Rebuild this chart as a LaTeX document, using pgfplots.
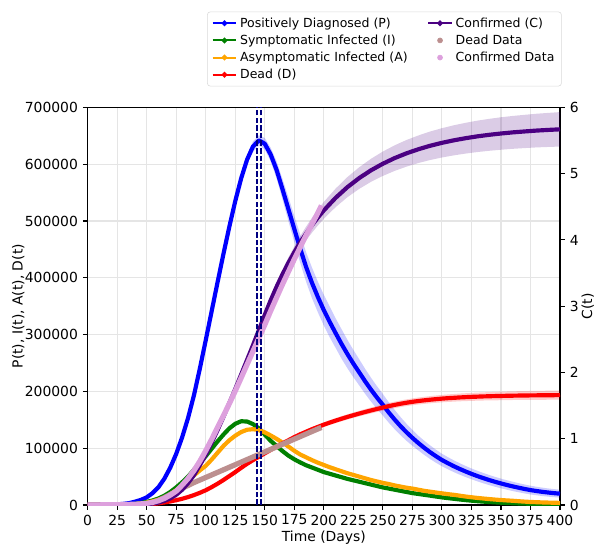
\documentclass[border=0pt]{standalone}
\usepackage{fontspec}
\setmainfont{DejaVu Sans}
\usepackage{pgfplots}
\pgfplotsset{compat=1.18}
\usepackage{pgfplotstable}
\usepgfplotslibrary{fillbetween}
\definecolor{mplblue}{HTML}{0000FF}
\definecolor{mplgreen}{HTML}{008000}
\definecolor{mplorange}{HTML}{FFA500}
\definecolor{mplred}{HTML}{FF0000}
\definecolor{indigo}{HTML}{4B0082}
\definecolor{plum}{HTML}{DDA0DD}
\definecolor{rosybrown}{HTML}{BC8F8F}
\definecolor{navy}{HTML}{000080}

% model curves: P, I, A, D (left axis) with band half-widths eP, eD
\pgfplotstableread{
t P eP I A D eD
0 200 50 100 50 0 0
5 250 50 110 60 0 0
10 350 50 150 100 0 0
15 500 50 200 150 0 0
20 750 50 300 250 50 10
25 1200 100 450 400 100 10
30 2000 100 700 600 150 10
35 3300 100 1200 1000 200 20
40 5800 200 2000 1500 300 20
45 9000 300 3500 2600 600 30
50 13500 400 5500 4200 1000 50
55 21000 500 8000 6500 1800 80
60 31500 700 11500 9500 3000 100
65 46500 1000 16500 13500 4500 150
70 66000 1500 23000 19000 6300 200
75 90000 2000 31000 26000 8500 250
80 119000 2500 40000 34000 11000 300
85 153000 3000 50000 43000 14000 350
90 193000 4000 62000 52000 17500 400
95 240000 5000 74000 61000 21500 450
100 290000 6000 86000 69000 26000 500
105 341000 6500 99000 80000 31500 700
110 392000 7000 112000 92000 37500 900
115 442000 7500 124000 104000 44000 1100
120 490000 8000 135000 114000 51000 1300
125 535000 8500 143000 122000 58000 1500
130 575000 9000 147500 128500 65500 1700
135 608000 9000 147000 132500 72500 1900
140 631000 9000 142500 133500 79000 2100
145 642000 9000 135000 132000 85000 2300
150 636000 10000 124000 128000 91000 2500
155 617000 12000 113000 122500 97000 2700
160 590000 15000 104000 116500 103000 2800
165 556000 18000 95000 110000 108500 3000
170 521000 21000 87000 103000 114000 3100
175 486000 23000 80500 95500 119500 3300
180 451500 25000 75000 89000 124500 3400
185 419000 26000 70000 84000 129000 3600
190 391000 27000 66000 79000 133500 3700
195 366000 27000 62000 74500 137500 3900
200 343000 27000 58000 70500 141500 4000
205 322300 27000 55000 66500 145100 4200
210 302600 26000 52000 63000 148600 4300
215 283600 26000 49000 59500 151900 4500
220 265700 25000 46000 56000 155100 4600
225 249100 24000 43500 53000 158100 4800
230 233500 23000 41000 50000 161000 4900
235 217700 22000 38500 47000 163800 5100
240 203000 21000 36000 44000 166500 5200
245 189200 20000 33500 41500 169100 5400
250 176400 19000 31000 39000 171600 5500
255 162900 18000 29000 37000 174100 5600
260 150400 17000 27000 34500 176300 5700
265 138800 16000 25000 32500 178300 5800
270 128100 15000 23000 30500 180100 5900
275 118300 14000 21000 29000 181700 6000
280 109200 13000 19500 27000 183100 6100
285 100800 12500 18000 25000 184300 6200
290 93000 12000 16500 23500 185400 6300
295 85900 11500 15000 22000 186400 6400
300 79300 11000 13500 20600 187300 6500
305 73700 10700 12200 19200 188100 6600
310 68400 10400 11000 18000 188700 6700
315 63600 10100 9800 16500 189400 6800
320 59100 9800 8700 15000 189900 6900
325 54900 9500 7700 13700 190400 7000
330 51000 9300 6800 12500 190800 7100
335 47400 9100 6000 11500 191200 7200
340 44000 8900 5300 10500 191500 7300
345 40900 8700 4700 9600 191800 7400
350 38000 8500 4100 8800 192000 7500
355 35300 8300 3600 8100 192300 7550
360 32800 8200 3200 7500 192500 7600
365 30500 8000 2800 6700 192700 7700
370 28300 7900 2500 6000 192800 7750
375 26300 7700 2200 5400 193000 7800
380 24700 7500 2000 5000 193100 7850
385 23200 7400 1800 4600 193200 7900
390 22000 7200 1700 4300 193300 7950
395 20900 7100 1550 4000 193400 8000
400 20000 7000 1400 3800 193500 8000
}\model

% confirmed model C (right axis, in millions) with band half-width eC
\pgfplotstableread{
t C eC
0 0 0
10 0.001 0
20 0.002 0
30 0.003 0
40 0.005 0
45 0.008 0.001
50 0.013 0.002
55 0.022 0.003
60 0.038 0.004
65 0.063 0.005
70 0.1 0.006
75 0.155 0.008
80 0.23 0.01
85 0.33 0.012
90 0.45 0.014
95 0.6 0.016
100 0.76 0.018
105 0.94 0.02
110 1.13 0.023
115 1.33 0.026
120 1.54 0.03
125 1.75 0.034
130 1.97 0.038
135 2.19 0.042
140 2.41 0.046
145 2.64 0.05
150 2.87 0.055
155 3.09 0.06
160 3.293 0.065
165 3.481 0.072
170 3.654 0.08
175 3.814 0.088
180 3.962 0.096
185 4.097 0.104
190 4.223 0.112
195 4.339 0.12
200 4.446 0.128
210 4.635 0.14
220 4.797 0.152
230 4.934 0.163
240 5.051 0.174
250 5.15 0.184
260 5.235 0.193
270 5.307 0.201
280 5.368 0.208
290 5.421 0.215
300 5.465 0.221
310 5.503 0.227
320 5.535 0.232
330 5.563 0.237
340 5.586 0.241
350 5.606 0.245
360 5.623 0.248
370 5.637 0.251
380 5.65 0.254
390 5.66 0.257
400 5.669 0.26
}\cmodel

% observed data: dead (left axis) and confirmed (right axis, millions)
\pgfplotstableread{
t dead conf
0 0 0
5 0 0.001
10 0 0.002
15 0 0.003
20 0 0.004
25 100 0.005
30 200 0.007
35 300 0.009
40 500 0.012
45 800 0.017
50 1500 0.025
55 4000 0.04
60 8000 0.065
65 13000 0.1
70 18500 0.15
75 24000 0.21
80 29500 0.3
85 34500 0.4
90 39500 0.52
95 44000 0.66
100 48500 0.82
105 53000 0.99
110 57500 1.17
115 62000 1.35
120 66500 1.53
125 71000 1.72
130 75500 1.92
135 80000 2.12
140 84500 2.32
145 89000 2.52
150 93500 2.72
155 98000 2.93
160 102500 3.13
165 107000 3.33
170 111500 3.52
175 116000 3.71
180 120500 3.89
185 125000 4.07
190 129500 4.24
195 134000 4.41
198 136500 4.52
}\obs

\begin{document}
\begin{tikzpicture}
\pgfplotsset{
  every axis/.append style={
    scale only axis, width=340.1pt, height=286.3pt,
    xmin=0, xmax=400,
    tick align=outside, major tick length=3.5pt,
    every tick/.style={black, line width=0.8pt},
    axis line style={line width=0.8pt},
    tick label style={font=\fontsize{10}{12}\selectfont},
    label style={font=\fontsize{10}{12}\selectfont},
    /pgf/number format/assume math mode=true,
  }
}
\begin{axis}[
  name=ax1,
  ymin=0, ymax=700000,
  xtick={0,25,...,400},
  ytick={0,100000,200000,300000,400000,500000,600000,700000},
  scaled y ticks=false,
  yticklabel style={/pgf/number format/fixed, /pgf/number format/1000 sep={}},
  xtick pos=bottom, ytick pos=left,
  grid=major, grid style={black!10, line width=0.8pt},
  xlabel={Time (Days)},
  ylabel={P(t), I(t), A(t), D(t)},
  every axis x label/.style={at={(axis description cs:0.5,0)}, anchor=north, yshift=-15pt},
  every axis y label/.style={at={(axis description cs:0,0.5)}, xshift=-50pt, rotate=90, anchor=center},
]
% bands
\addplot[name path=Pu, draw=none, forget plot] table[x=t, y expr=\thisrow{P}+\thisrow{eP}]{\model};
\addplot[name path=Pl, draw=none, forget plot] table[x=t, y expr=\thisrow{P}-\thisrow{eP}]{\model};
\addplot[fill=mplblue, fill opacity=0.2, draw=none, forget plot] fill between[of=Pu and Pl];
\addplot[name path=Du, draw=none, forget plot] table[x=t, y expr=\thisrow{D}+\thisrow{eD}]{\model};
\addplot[name path=Dl, draw=none, forget plot] table[x=t, y expr=\thisrow{D}-\thisrow{eD}]{\model};
\addplot[fill=mplred, fill opacity=0.2, draw=none, forget plot] fill between[of=Du and Dl];
% curves
\addplot[mplblue, line width=3pt, line join=round, forget plot] table[x=t, y=P]{\model};
\addplot[mplgreen, line width=3pt, line join=round, forget plot] table[x=t, y=I]{\model};
\addplot[mplorange, line width=3pt, line join=round, forget plot] table[x=t, y=A]{\model};
\addplot[mplred, line width=3pt, line join=round, forget plot] table[x=t, y=D]{\model};
\addplot[rosybrown, line width=3.8pt, line join=round, forget plot] table[x=t, y=dead]{\obs};
\end{axis}

\begin{axis}[
  at={(ax1.south west)}, anchor=south west,
  ymin=0, ymax=6,
  hide x axis,
  axis y line*=right,
  ytick={0,1,2,3,4,5,6},
  ylabel={C(t)},
  every axis y label/.style={at={(axis description cs:1,0.5)}, xshift=20pt, rotate=90, anchor=center},
  legend columns=2,
  legend cell align=left,
  legend style={at={(1.0035,1.2407)}, anchor=north east,
    draw=black!15, rounded corners=2pt, fill=white,
    font=\fontsize{9}{11}\selectfont,
    /tikz/every even column/.append style={column sep=12pt}},
]
\addplot[name path=Cu, draw=none, forget plot] table[x=t, y expr=\thisrow{C}+\thisrow{eC}]{\cmodel};
\addplot[name path=Cl, draw=none, forget plot] table[x=t, y expr=\thisrow{C}-\thisrow{eC}]{\cmodel};
\addplot[fill=indigo, fill opacity=0.2, draw=none, forget plot] fill between[of=Cu and Cl];
\addplot[indigo, line width=3pt, line join=round, forget plot] table[x=t, y=C]{\cmodel};
\addplot[plum, line width=3.8pt, line join=round, forget plot] table[x=t, y=conf]{\obs};
\addplot[navy, dash pattern=on 4pt off 1.5pt, line width=1.4pt, forget plot] coordinates {(143.6,0) (143.6,6)};
\addplot[navy, dash pattern=on 4pt off 1.5pt, line width=1.4pt, forget plot] coordinates {(146.5,0) (146.5,6)};
\node[anchor=south east, font=\fontsize{10}{12}\selectfont, inner sep=1pt] at (rel axis cs:1,1) {1e6};
% legend (row-wise order reproduces matplotlib's column-wise layout)
\addlegendimage{mplblue, line width=1.5pt, mark=*, mark size=1.2pt}
\addlegendentry{Positively Diagnosed (P)}
\addlegendimage{indigo, line width=1.5pt, mark=*, mark size=1.2pt}
\addlegendentry{Confirmed (C)}
\addlegendimage{mplgreen, line width=1.5pt, mark=*, mark size=1.2pt}
\addlegendentry{Symptomatic Infected (I)}
\addlegendimage{only marks, mark=*, mark size=1.8pt, rosybrown}
\addlegendentry{Dead Data}
\addlegendimage{mplorange, line width=1.5pt, mark=*, mark size=1.2pt}
\addlegendentry{Asymptomatic Infected (A)}
\addlegendimage{only marks, mark=*, mark size=1.8pt, plum}
\addlegendentry{Confirmed Data}
\addlegendimage{mplred, line width=1.5pt, mark=*, mark size=1.2pt}
\addlegendentry{Dead (D)}
\end{axis}
\pgfresetboundingbox
\path (ax1.south west) ++(-63.1pt,-29.5pt) rectangle ++(429.84pt,393.12pt);
\end{tikzpicture}
\end{document}
